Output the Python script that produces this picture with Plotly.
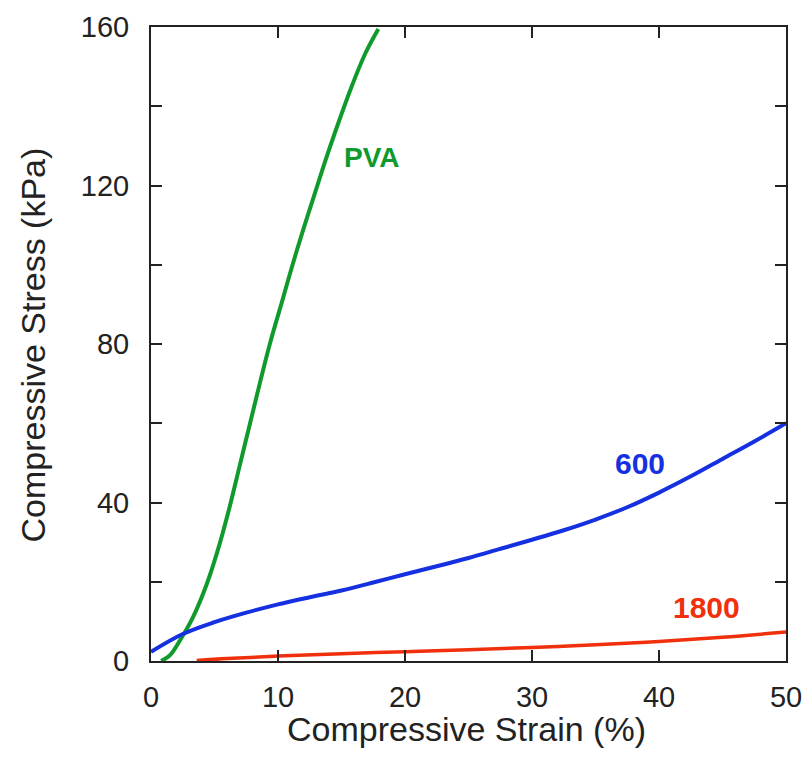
import plotly.graph_objects as go

# PVA curve
pva_x = [0.8, 1.5, 2.3, 3.3, 4.4, 5.4, 6.2, 7.0, 7.8, 8.6, 9.4, 10.3, 11.1, 12.0, 12.8, 13.6, 14.5, 15.8, 16.9, 17.9]
pva_y = [0.0, 1.5, 5.3, 11.0, 19.5, 29.5, 39.0, 49.5, 60.0, 70.5, 80.5, 90.5, 99.5, 109.0, 117.0, 125.0, 133.5, 145.0, 153.5, 159.5]

# 600 curve
s600_x = [0, 2.5, 5, 7.5, 10, 12.5, 15, 17.5, 20, 22.5, 25, 27.5, 30, 32.5, 35, 37.5, 40, 42.5, 45, 47.5, 50]
s600_y = [2.3, 6.8, 9.8, 12.2, 14.3, 16.1, 17.8, 19.8, 21.9, 23.9, 26.0, 28.3, 30.6, 33.0, 35.7, 38.8, 42.5, 46.6, 51.0, 55.4, 60.0]

# 1800 curve
s1800_x = [3.6, 6, 10, 15, 20, 25, 30, 35, 40, 45, 50]
s1800_y = [0.1, 0.6, 1.25, 1.85, 2.35, 2.85, 3.4, 4.1, 4.95, 6.0, 7.3]

x_ticks = [0, 10, 20, 30, 40, 50]
y_ticks = [0, 20, 40, 60, 80, 100, 120, 140, 160]
y_ticktext = ["0", "", "40", "", "80", "", "120", "", "160"]

x_title = "Compressive Strain (%)"
y_title = "Compressive Stress (kPa)"

GREEN = "#109a2c"
BLUE = "#1430e0"
RED = "#f0300c"
FONT = "Liberation Sans, Arial"

fig = go.Figure()
fig.add_trace(go.Scatter(x=pva_x, y=pva_y, mode="lines", line=dict(color=GREEN, width=4, shape="spline", smoothing=1.0), showlegend=False))
fig.add_trace(go.Scatter(x=s600_x, y=s600_y, mode="lines", line=dict(color=BLUE, width=4, shape="spline", smoothing=1.0), showlegend=False))
fig.add_trace(go.Scatter(x=s1800_x, y=s1800_y, mode="lines", line=dict(color=RED, width=3.5, shape="spline", smoothing=1.0), showlegend=False))

labels = [("PVA", 17.43, 127.1, GREEN, 28), ("600", 38.47, 49.8, BLUE, 30), ("1800", 43.77, 13.5, RED, 30)]
for txt, lx, ly, col, fs in labels:
    fig.add_annotation(x=lx, y=ly, text="<b>%s</b>" % txt, showarrow=False,
                       font=dict(family=FONT, size=fs, color=col),
                       xanchor="center", yanchor="middle")

# axis titles
fig.add_annotation(xref="paper", yref="paper", x=0.497, y=-0.1073, text=x_title, showarrow=False,
                   font=dict(family=FONT, size=34, color="#222"), xanchor="center", yanchor="middle")
fig.add_annotation(xref="paper", yref="paper", x=-0.1858, y=0.4976, text=y_title, showarrow=False,
                   textangle=-90, font=dict(family=FONT, size=34, color="#222"), xanchor="center", yanchor="middle")

axis_common = dict(
    showgrid=False, zeroline=False, showline=True, linecolor="#222", linewidth=2,
    mirror="ticks", ticks="inside", ticklen=11, tickwidth=2, tickcolor="#222",
    tickfont=dict(family=FONT, size=29, color="#222"),
    automargin=False,
)

fig.update_xaxes(range=[0, 50], tickvals=x_ticks, ticktext=[str(v) for v in x_ticks],
                 ticklabelstandoff=9, **axis_common)
fig.update_yaxes(range=[0, 160], tickvals=y_ticks, ticktext=y_ticktext,
                 ticklabelstandoff=14, **axis_common)

fig.update_layout(
    width=806, height=757,
    margin=dict(l=151, r=20, t=27, b=96),
    plot_bgcolor="white", paper_bgcolor="white",
)

fig.write_html("out.html")
